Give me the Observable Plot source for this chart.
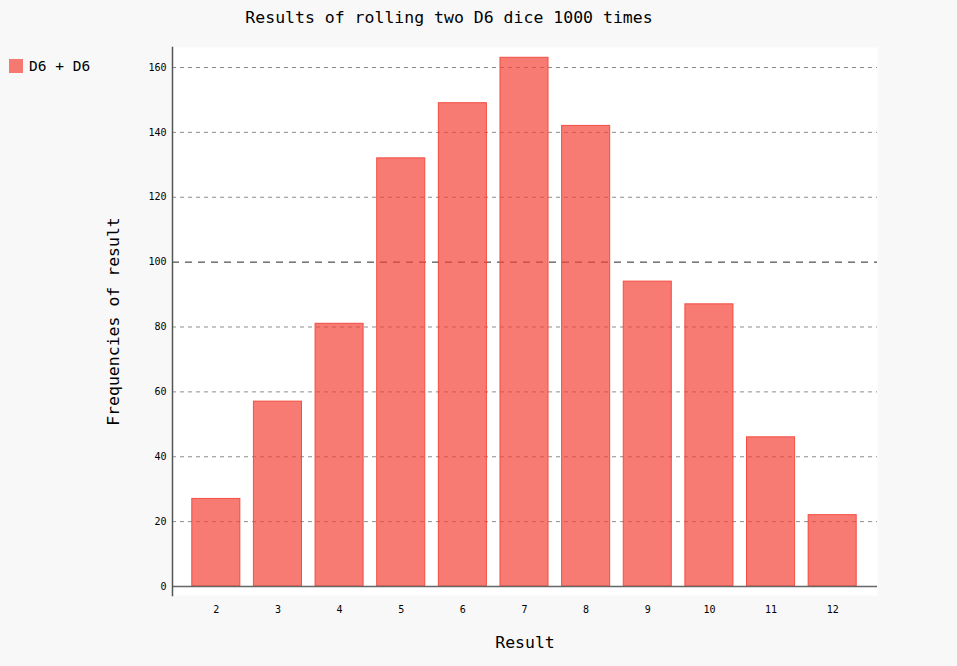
<!DOCTYPE html>
<html>
<head>
<meta charset="utf-8">
<script src="https://cdn.jsdelivr.net/npm/d3@7"></script>
<script src="https://cdn.jsdelivr.net/npm/@observablehq/plot@0.6"></script>
<style>
  html, body { margin: 0; padding: 0; background: #f8f8f8; }
  #wrap { position: relative; width: 957px; height: 666px; background: #f8f8f8; overflow: hidden; }
  #title { height: 36px; line-height: 36px; font-family: "DejaVu Sans Mono", monospace; font-size: 16.5px; color: #000; text-align: center; width: 898px; }
  #legend { position: absolute; left: 9px; top: 58px; font-family: "DejaVu Sans Mono", monospace; font-size: 14.5px; color: #000; display: flex; align-items: center; }
  #legend .sw { width: 14px; height: 14px; background: #F44336; opacity: 0.7; margin-right: 6px; }
  svg { display: block; }
</style>
</head>
<body>
<div id="wrap">
  <div id="title"></div>
  <div id="legend"><span class="sw"></span><span id="legtext"></span></div>
  <div id="chart"></div>
</div>
<script>
const titleText = "Results of rolling two D6 dice 1000 times";
const seriesName = "D6 + D6";
const xTitle = "Result";
const yTitle = "Frequencies of result";
const results = ["2", "3", "4", "5", "6", "7", "8", "9", "10", "11", "12"];
const frequencies = [27, 57, 81, 132, 149, 163, 142, 94, 87, 46, 22];
const yTicks = [0, 20, 40, 60, 80, 100, 120, 140, 160];
const majorTick = 100;

document.getElementById("title").textContent = titleText;
document.getElementById("legtext").textContent = seriesName;

const data = results.map((r, i) => ({result: r, freq: frequencies[i]}));
const font = "DejaVu Sans Mono, monospace";

const chart = Plot.plot({
  width: 957,
  height: 630,
  marginLeft: 172,
  marginRight: 80,
  marginTop: 11,
  marginBottom: 71,
  style: {fontFamily: font, background: "transparent", color: "#000"},
  x: {type: "band", domain: results, paddingInner: 0.22, paddingOuter: 0.11, insetLeft: 13, insetRight: 14, round: false},
  y: {domain: [-2.77, 166.17], nice: false},
  marks: [
    Plot.frame({fill: "white", stroke: null}),
    Plot.ruleY(yTicks.filter(d => d !== 0 && d !== majorTick), {stroke: "#000", strokeOpacity: 0.45, strokeDasharray: "4,4", strokeWidth: 1}),
    Plot.ruleY(yTicks.filter(d => d === majorTick), {stroke: "#000", strokeOpacity: 0.85, strokeDasharray: "7,6", strokeWidth: 1}),
    Plot.barY(data, {x: "result", y: "freq", fill: "#F44336", fillOpacity: 0.7, stroke: "#F44336", strokeOpacity: 0.9, strokeWidth: 1}),
    Plot.ruleY([0], {stroke: "#666", strokeWidth: 1.5}),
    Plot.frame({anchor: "left", stroke: "#555", strokeWidth: 1.5}),
    Plot.axisY({ticks: yTicks, tickSize: 0, tickPadding: 6, fontSize: 10, label: yTitle, labelAnchor: "center", labelArrow: "none", labelOffset: 65}),
    Plot.axisX({tickSize: 0, tickPadding: 10, fontSize: 10, label: xTitle, labelAnchor: "center", labelArrow: "none", labelOffset: 52})
  ]
});

chart.querySelectorAll("g[aria-label='y-axis label'] text, g[aria-label='x-axis label'] text").forEach(t => t.setAttribute("font-size", "16.5"));
document.getElementById("chart").appendChild(chart);
</script>
</body>
</html>
